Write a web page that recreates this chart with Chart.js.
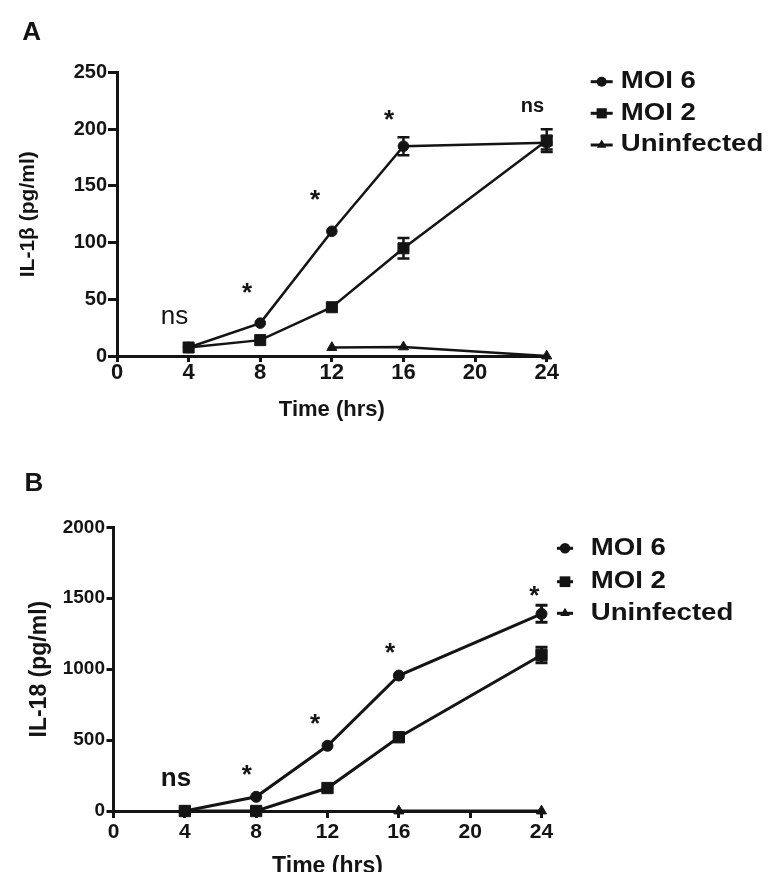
<!DOCTYPE html>
<html><head><meta charset="utf-8">
<script src="https://cdn.jsdelivr.net/npm/chart.js@4.4.1/dist/chart.umd.min.js"></script>
<style>
html,body{margin:0;padding:0;background:#fff;overflow:hidden;width:768px;height:872px;}
.p{position:absolute;left:0;width:768px;}
canvas{display:block;}
</style></head><body>
<div class="p" style="top:0"><canvas id="cA" width="768" height="440"></canvas></div>
<div class="p" style="top:440px"><canvas id="cB" width="768" height="450"></canvas></div>
<script>
// ---------- data ----------
const timePoints = [4, 8, 12, 16, 24];
const xTickValues = [0, 4, 8, 12, 16, 20, 24];
const seriesNames = ['MOI 6', 'MOI 2', 'Uninfected'];

// Panel A: IL-1beta (pg/ml)
const il1bMoi6 = [7.5, 29, 110, 185, 188];
const il1bMoi2 = [7.5, 14, 43, 95, 190];
const il1bUninfected = [null, null, 7.5, 8, 0];
const il1bMoi6Err = [0, 0, 0, 8, 6];
const il1bMoi2Err = [0, 0, 0, 9, 10];
const il1bTicks = [0, 50, 100, 150, 200, 250];
const il1bNoteText = ['ns', '*', '*', '*', 'ns'];
const il1bNoteX = [3.21, 7.26, 11.06, 15.2, 23.2];
const il1bNoteY = [34, 61.7, 143.7, 214.3, 219.6];

// Panel B: IL-18 (pg/ml)
const il18Moi6 = [0, 100, 460, 955, 1390];
const il18Moi2 = [0, 0, 162, 520, 1100];
const il18Uninfected = [null, null, null, 0, 0];
const il18Moi6Err = [0, 0, 0, 0, 60];
const il18Moi2Err = [0, 0, 0, 0, 55];
const il18Ticks = [0, 500, 1000, 1500, 2000];
const il18NoteText = ['ns', '*', '*', '*', '*'];
const il18NoteX = [3.5, 7.47, 11.3, 15.51, 23.59];
const il18NoteY = [226, 301, 665, 1164, 1567];

// ---------- style ----------
const INK = '#141414';
const FAM = "'Liberation Sans', Arial, Helvetica, sans-serif";
const STYLES = ['circle', 'rect', 'triangle'];

function pts(arr) { return timePoints.map((t, i) => ({x: t, y: arr[i]})); }

function drawMarker(ctx, style, x, y, r) {
  ctx.beginPath();
  if (style === 'circle') {
    ctx.arc(x, y, r, 0, Math.PI * 2);
  } else if (style === 'rect') {
    const s = r * Math.SQRT1_2;
    ctx.rect(x - s, y - s, 2 * s, 2 * s);
  } else {
    const w = r * Math.sqrt(3) / 2;
    ctx.moveTo(x, y - r);
    ctx.lineTo(x + w, y + r / 2);
    ctx.lineTo(x - w, y + r / 2);
    ctx.closePath();
  }
  ctx.fill();
}

function makeDecor(cfg) {
  return {
    id: 'decor',
    afterDatasetsDraw(chart) {
      const ctx = chart.ctx, xs = chart.scales.x, ys = chart.scales.y;
      ctx.save();
      ctx.strokeStyle = INK;
      ctx.lineWidth = cfg.errWidth;
      chart.data.datasets.forEach((ds, i) => {
        const err = cfg.errors[i];
        if (!err) return;
        ds.data.forEach((p, j) => {
          if (p.y == null || !err[j]) return;
          const px = xs.getPixelForValue(p.x);
          const y1 = ys.getPixelForValue(p.y + err[j]);
          const y2 = ys.getPixelForValue(p.y - err[j]);
          ctx.beginPath();
          ctx.moveTo(px, y1); ctx.lineTo(px, y2);
          ctx.moveTo(px - cfg.capHalf, y1); ctx.lineTo(px + cfg.capHalf, y1);
          ctx.moveTo(px - cfg.capHalf, y2); ctx.lineTo(px + cfg.capHalf, y2);
          ctx.stroke();
        });
      });
      ctx.restore();
    },
    afterDraw(chart) {
      const ctx = chart.ctx, xs = chart.scales.x, ys = chart.scales.y;
      ctx.save();
      ctx.fillStyle = INK;
      // panel letter
      ctx.font = 'bold 26px ' + FAM;
      ctx.textAlign = 'center';
      ctx.textBaseline = 'middle';
      ctx.fillText(cfg.letter, cfg.letterX, cfg.letterY);
      // annotations
      cfg.noteText.forEach((t, i) => {
        const st = cfg.noteStyle[i];
        const px = xs.getPixelForValue(cfg.noteX[i]);
        const py = ys.getPixelForValue(cfg.noteY[i]);
        ctx.font = st.w + ' ' + st.s + 'px ' + FAM;
        ctx.textAlign = 'center';
        ctx.textBaseline = 'alphabetic';
        const off = t === '*' ? 0.58 : 0.26;
        ctx.fillText(t, px, py + off * st.s);
      });
      // legend
      const L = cfg.legend;
      chart.data.datasets.forEach((ds, i) => {
        const y = L.rows[i];
        ctx.strokeStyle = INK;
        ctx.lineWidth = 3;
        ctx.beginPath();
        ctx.moveTo(L.markerX - L.lineHalf, y);
        ctx.lineTo(L.markerX + L.lineHalf, y);
        ctx.stroke();
        drawMarker(ctx, STYLES[i], L.markerX, y, L.radii[i]);
        ctx.save();
        ctx.translate(L.textX, y);
        ctx.scale(L.stretch, 1);
        ctx.font = 'bold ' + L.size + 'px ' + FAM;
        ctx.textAlign = 'left';
        ctx.textBaseline = 'middle';
        ctx.fillText(ds.label, 0, 0);
        ctx.restore();
      });
      ctx.restore();
    }
  };
}

function buildChart(id, p) {
  const datasets = p.series.map((arr, i) => ({
    label: seriesNames[i],
    data: pts(arr),
    borderColor: INK,
    backgroundColor: INK,
    borderWidth: p.lineWidth,
    pointStyle: STYLES[i],
    pointRadius: p.radii[i],
    pointBorderWidth: 1,
    pointBorderColor: INK,
    pointBackgroundColor: INK,
    tension: 0,
    spanGaps: false,
    clip: false
  }));
  return new Chart(document.getElementById(id), {
    type: 'line',
    data: {datasets},
    options: {
      responsive: false,
      animation: false,
      devicePixelRatio: 1,
      layout: {padding: p.padding},
      plugins: {legend: {display: false}, tooltip: {enabled: false}},
      scales: {
        x: {
          type: 'linear', min: 0, max: 24,
          afterBuildTicks: s => { s.ticks = xTickValues.map(v => ({value: v})); },
          afterFit: s => { s.height = p.xHeight; },
          border: {display: true, color: INK, width: 3},
          grid: {drawOnChartArea: false, drawTicks: true, tickLength: p.xTickLen, tickWidth: 3, tickColor: INK, color: INK, lineWidth: 3},
          ticks: {color: INK, autoSkip: false, maxRotation: 0, padding: p.xTickPad,
                  callback: v => String(v),
                  font: {family: FAM, size: p.xTickSize, weight: 'bold', lineHeight: 1}},
          title: {display: true, text: 'Time (hrs)', color: INK,
                  font: {family: FAM, size: p.xTitleSize, weight: 'bold'},
                  padding: {top: 0, bottom: p.xTitlePad}}
        },
        y: {
          type: 'linear', min: p.yTicks[0], max: p.yTicks[p.yTicks.length - 1],
          afterBuildTicks: s => { s.ticks = p.yTicks.map(v => ({value: v})); },
          afterFit: s => { s.width = p.yWidth; },
          border: {display: true, color: INK, width: 3},
          grid: {drawOnChartArea: false, drawTicks: true, tickLength: p.yTickLen, tickWidth: 3, tickColor: INK, color: INK, lineWidth: 3},
          ticks: {color: INK, padding: p.yTickPad,
                  callback: v => String(v),
                  font: {family: FAM, size: p.yTickSize, weight: 'bold'}},
          title: {display: true, text: p.yTitle, color: INK,
                  font: {family: FAM, size: p.yTitleSize, weight: 'bold'},
                  padding: {top: p.yTitlePad, bottom: 0}}
        }
      }
    },
    plugins: [makeDecor(p.decor)]
  });
}

buildChart('cA', {
  series: [il1bMoi6, il1bMoi2, il1bUninfected],
  lineWidth: 2.5,
  radii: [5.3, 7.8, 5.8],
  padding: {left: 0, right: 221.3, top: 72.5, bottom: 0},
  xHeight: 84, xTickLen: 6, xTickPad: 0, xTickSize: 22, xTitleSize: 22, xTitlePad: 16.8,
  yTicks: il1bTicks, yWidth: 117, yTickLen: 9, yTickPad: 1, yTickSize: 20,
  yTitle: 'IL-1β (pg/ml)', yTitleSize: 21, yTitlePad: 16,
  decor: {
    letter: 'A', letterX: 31.7, letterY: 32.5,
    errors: [il1bMoi6Err, il1bMoi2Err, null], errWidth: 2.5, capHalf: 6,
    noteText: il1bNoteText, noteX: il1bNoteX, noteY: il1bNoteY,
    noteStyle: [{w: 'normal', s: 26}, {w: 'bold', s: 26}, {w: 'bold', s: 26}, {w: 'bold', s: 26}, {w: 'bold', s: 20}],
    legend: {markerX: 601.7, lineHalf: 11, textX: 620.7, rows: [81.7, 113.3, 145], radii: [5, 7.2, 5.5], size: 23, stretch: 1.2}
  }
});

buildChart('cB', {
  series: [il18Moi6, il18Moi2, il18Uninfected],
  lineWidth: 3,
  radii: [5.5, 8, 5.8],
  padding: {left: 0, right: 226.5, top: 87.3, bottom: 0},
  xHeight: 79, xTickLen: 7, xTickPad: 3.5, xTickSize: 21, xTitleSize: 23, xTitlePad: 9.7,
  yTicks: il18Ticks, yWidth: 113.5, yTickLen: 7, yTickPad: 1.5, yTickSize: 19,
  yTitle: 'IL-18 (pg/ml)', yTitleSize: 23, yTitlePad: 26.2,
  decor: {
    letter: 'B', letterX: 34, letterY: 44,
    errors: [il18Moi6Err, il18Moi2Err, null], errWidth: 3, capHalf: 6,
    noteText: il18NoteText, noteX: il18NoteX, noteY: il18NoteY,
    noteStyle: [{w: 'bold', s: 26}, {w: 'bold', s: 26}, {w: 'bold', s: 26}, {w: 'bold', s: 26}, {w: 'bold', s: 26}],
    legend: {markerX: 565, lineHalf: 8, textX: 590.7, rows: [108.3, 141.7, 173.3], radii: [5.3, 7.6, 5.5], size: 23, stretch: 1.2}
  }
});
</script>
</body></html>
